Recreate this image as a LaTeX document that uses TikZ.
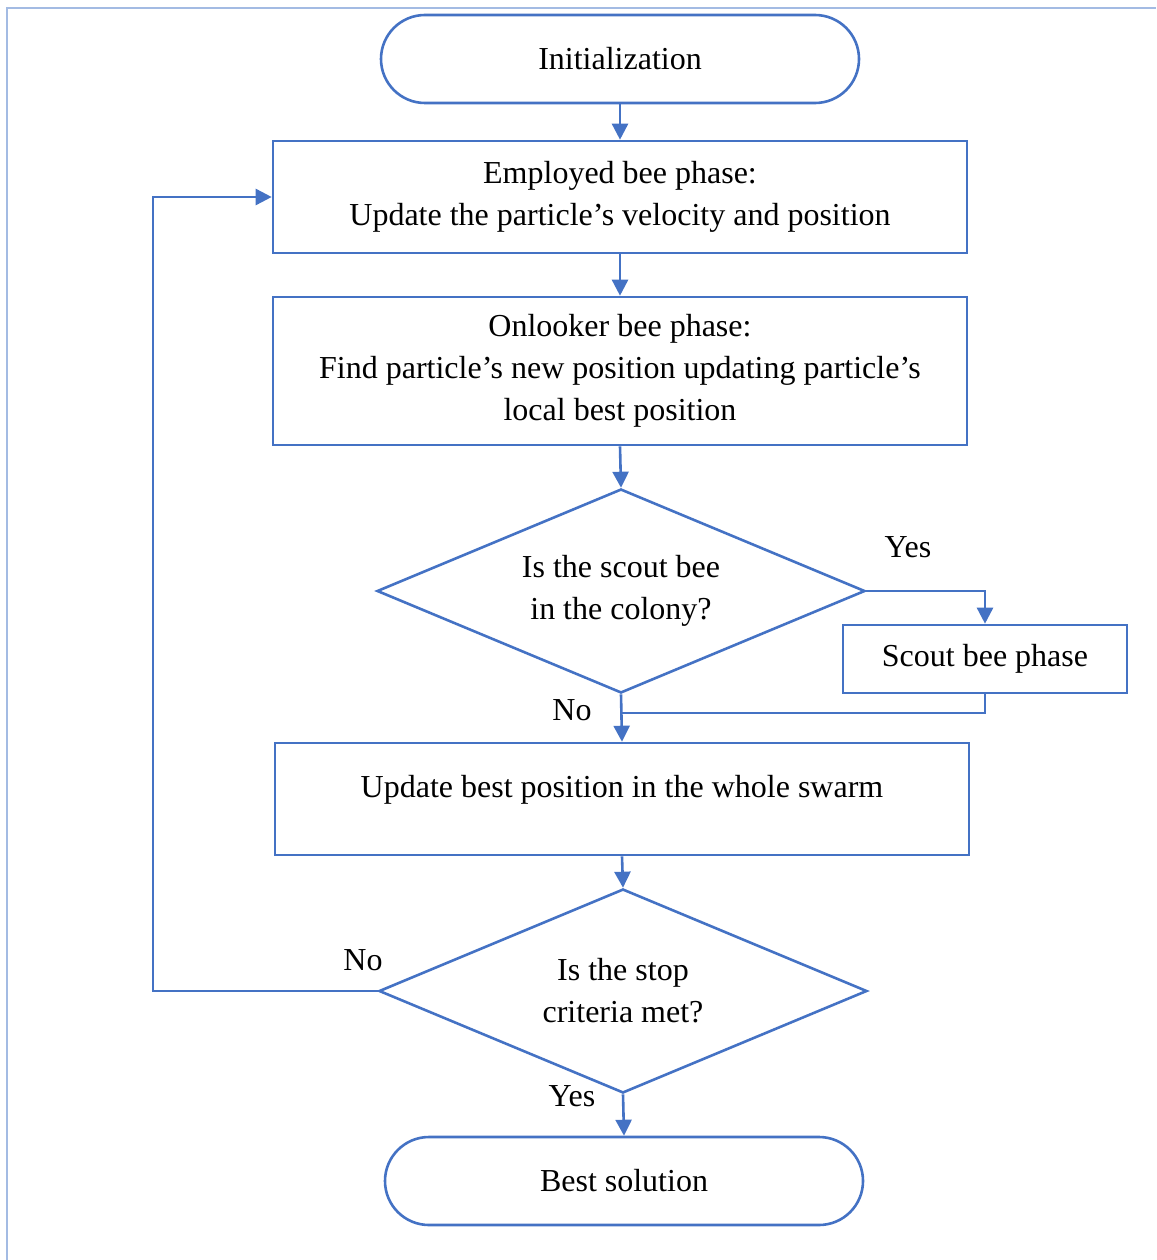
\documentclass[tikz,border=0pt]{standalone}
\usepackage{fontspec}
\setmainfont{Liberation Serif}
\usetikzlibrary{shapes.geometric,arrows.meta}
\definecolor{bl}{HTML}{4472C4}
\definecolor{frm}{HTML}{A3BBE3}
\begin{document}
\begin{tikzpicture}[x=1pt,y=-1pt,
  every node/.style={font=\fontsize{32}{42}\selectfont, align=center, inner sep=0pt},
  box/.style={draw=bl, line width=2.6pt, rectangle},
  term/.style={draw=bl, line width=2.6pt, rectangle, rounded corners=44pt, minimum width=478pt, minimum height=88pt},
  dec/.style={draw=bl, line width=2.6pt, diamond, aspect=2.39, minimum width=488pt, minimum height=204pt},
  arr/.style={draw=bl, line width=2.6pt, -{Triangle[length=16pt,width=16pt]}},
  conn/.style={draw=bl, line width=2.6pt}]
\useasboundingbox (0,0) rectangle (1156,1260);
\draw[frm, line width=2pt] (7,1260) -- (7,8) -- (1156,8);

\node[term] (init) at (620,59) {Initialization};
\node[box, minimum width=694pt, minimum height=112pt] (emp) at (620,197) {\raisebox{-2pt}{\parbox{680pt}{\centering Employed bee phase:\\Update the particle’s velocity and position}}};
\node[box, minimum width=694pt, minimum height=148pt] (onl) at (620,371) {\raisebox{-2pt}{\parbox{680pt}{\centering Onlooker bee phase:\\Find particle’s new position updating particle’s\\local best position}}};
\node[dec] (d1) at (621,591) {\raisebox{-3pt}{\parbox{300pt}{\centering Is the scout bee\\in the colony?}}};
\node[box, minimum width=284pt, minimum height=68pt] (scout) at (985,659) {Scout bee phase};
\node[box, minimum width=694pt, minimum height=112pt] (upd) at (622,799) {};
\node (updt) at (622,790) {Update best position in the whole swarm};
\node[dec] (d2) at (623,991) {Is the stop\\criteria met?};
\node[term] (best) at (624,1181) {Best solution};

\node (yes1) at (908,547) {Yes};
\node (no1) at (572,710) {No};
\node (no2) at (363,960) {No};
\node (yes2) at (572,1096) {Yes};

\coordinate (j) at (621,713);
\coordinate (lp) at (153,991);

\draw[arr] (init.south) -- (emp.north);
\draw[arr] (emp.south) -- (onl.north);
\draw[arr] (onl.south) -- (d1.north);
\draw[arr] (d1.south) -- (upd.north);
\draw[arr] (upd.south) -- (d2.north);
\draw[arr] (d2.south) -- (best.north);
\draw[arr] (d1.east) -| (scout.north);
\draw[conn] (scout.south) |- (j);
\draw[arr] (d2.west) -- (lp) |- (emp.west);
\end{tikzpicture}
\end{document}
